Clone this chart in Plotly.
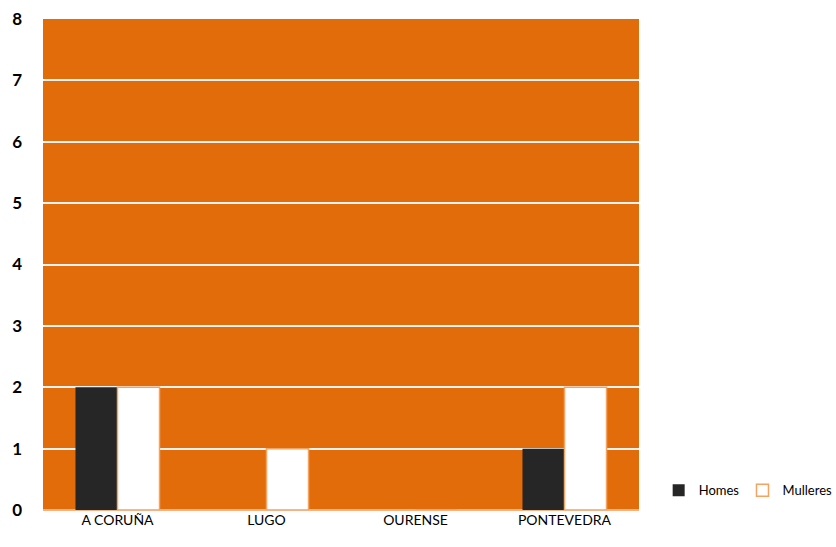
import plotly.graph_objects as go

categories = ["A CORUÑA", "LUGO", "OURENSE", "PONTEVEDRA"]
homes = [2, 0, 0, 1]
mulleres = [2, 1, 0, 2]
y_ticks = [0, 1, 2, 3, 4, 5, 6, 7, 8]

FONT = "Lato, sans-serif"

fig = go.Figure()
fig.add_trace(go.Bar(
    name="Homes", x=categories, y=homes, legend="legend",
    marker=dict(color="#262626", line=dict(width=0)),
))
fig.add_trace(go.Bar(
    name="Mulleres", x=categories, y=mulleres, legend="legend2",
    marker=dict(color="#FFFFFF", line=dict(color="#F4A460", width=1.5)),
))

legend_common = dict(
    orientation="h", y=0.04, yanchor="middle",
    font=dict(size=13, family=FONT), itemwidth=30,
    bgcolor="rgba(0,0,0,0)",
)

fig.update_layout(
    width=836, height=547,
    margin=dict(l=43, r=197, t=19, b=37, autoexpand=False),
    paper_bgcolor="white",
    plot_bgcolor="#E36C0A",
    barmode="group",
    bargap=0.436,
    bargroupgap=0,
    font=dict(family=FONT, color="black", size=14),
    showlegend=True,
    legend=dict(x=1.033, xanchor="left", **legend_common),
    legend2=dict(x=1.333, xanchor="right", **legend_common),
    xaxis=dict(showgrid=False, ticks="", tickfont=dict(size=14), showline=False,
               automargin=False),
    yaxis=dict(
        range=[0, 8], tickvals=y_ticks, showgrid=True, gridcolor="#F2F2F2",
        gridwidth=1.5, zeroline=True, zerolinecolor="#F4B183", zerolinewidth=1.5,
        tickfont=dict(size=17, family=FONT, weight="bold"), ticklabelstandoff=20,
        automargin=False,
    ),
)

fig.write_html("out.html", config={"displayModeBar": False},
               post_script="document.body.style.margin='0';")
